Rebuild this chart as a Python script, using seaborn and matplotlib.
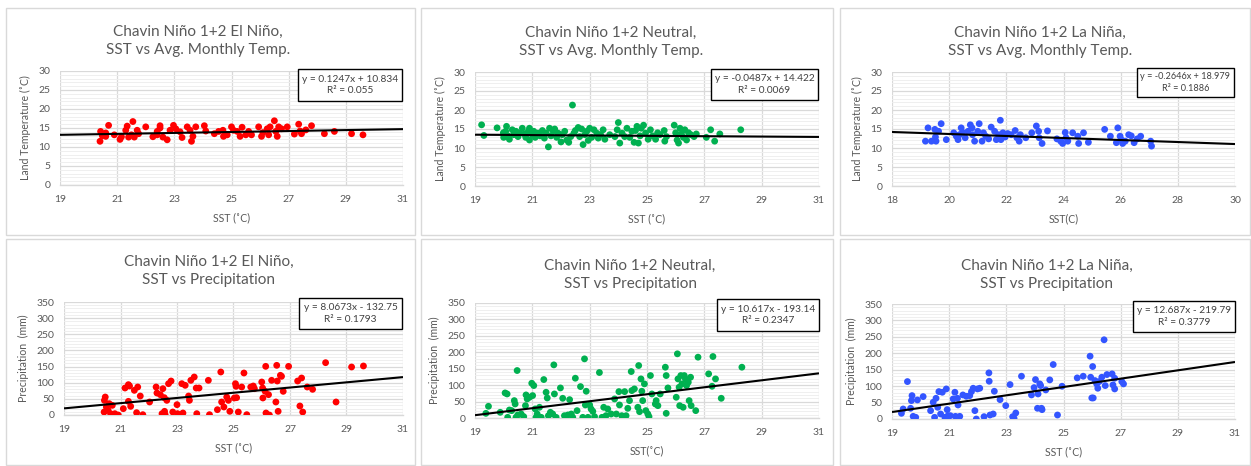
import numpy as np
import pandas as pd
import matplotlib
matplotlib.use("Agg")
import matplotlib.pyplot as plt
from matplotlib.patches import Rectangle
from matplotlib.ticker import MultipleLocator, NullLocator, FixedLocator
import seaborn as sns

# ---------------- DATA ----------------
# Panel 1: El Nino, SST vs Avg. Monthly Temp
en_temp_sst = [20.40, 20.42, 20.48, 20.6, 20.6, 20.7, 20.9, 21.1, 21.15, 21.3, 21.35, 21.4, 21.5, 21.55,
               21.6, 21.7, 21.75, 22.0, 22.25, 22.4, 22.5, 22.5, 22.4, 22.6, 22.75, 22.85, 22.97, 23.05,
               23.2, 23.27, 23.45, 23.55, 23.6, 23.65, 23.75, 24.05, 24.1, 24.4, 24.55, 24.7, 24.72, 24.85,
               25.0, 25.07, 25.2, 25.3, 25.37, 25.5, 25.6, 25.7, 25.95, 26.05, 26.1, 26.25, 26.3, 26.35,
               26.5, 26.55, 26.6, 26.65, 26.75, 26.95, 27.2, 27.35, 27.4, 27.45, 27.6, 27.8, 28.25, 28.6,
               29.2, 29.6]
en_temp_val = [11.5, 14.1, 13.0, 13.7, 12.8, 15.7, 13.2, 12.0, 12.7, 14.4, 15.5, 12.6, 13.2, 16.7,
               12.6, 14.4, 13.5, 15.3, 12.7, 14.1, 15.0, 15.6, 13.2, 12.6, 11.9, 14.4, 15.7, 14.8,
               14.0, 12.5, 15.3, 14.4, 11.5, 12.8, 15.3, 15.6, 14.2, 13.5, 14.1, 14.4, 12.8, 13.2,
               15.3, 14.4, 14.1, 12.8, 15.2, 13.2, 14.1, 13.2, 15.3, 12.8, 13.8, 14.8, 13.2, 15.3,
               16.9, 14.1, 12.8, 15.3, 14.8, 15.3, 13.4, 16.0, 14.2, 13.5, 14.5, 15.6, 13.5, 14.1,
               13.5, 13.2]

# Panel 2: Neutral, SST vs Avg. Monthly Temp
nu_temp_sst = [19.23, 19.31, 19.77, 19.99, 20.0, 20.07, 20.1, 20.15, 20.2, 20.3, 20.35, 20.43, 20.5, 20.55,
               20.65, 20.72, 20.77, 20.86, 20.9, 20.9, 21.0, 21.05, 21.1, 21.2, 21.27, 21.35, 21.42, 21.48,
               21.56, 21.6, 21.65, 21.73, 21.78, 21.85, 21.9, 22.0, 22.04, 22.13, 22.2, 22.27, 22.34, 22.4,
               22.45, 22.5, 22.6, 22.65, 22.72, 22.77, 22.83, 22.9, 22.95, 23.0, 23.07, 23.15, 23.25, 23.3,
               23.38, 23.47, 23.53, 23.7, 23.88, 23.96, 24.0, 24.05, 24.13, 24.22, 24.3, 24.4, 24.47, 24.55,
               24.6, 24.65, 24.7, 24.76, 24.8, 24.88, 24.95, 25.04, 25.12, 25.2, 25.3, 25.37, 25.45, 25.6,
               25.62, 25.68, 25.95, 26.0, 26.05, 26.1, 26.15, 26.2, 26.27, 26.32, 26.38, 26.45, 26.53, 26.64,
               26.72, 27.07, 27.22, 27.36, 27.54, 28.27]
nu_temp_val = [16.1, 13.3, 15.3, 14.0, 12.8, 14.4, 15.7, 13.2, 12.3, 14.8, 13.5, 14.4, 13.0, 13.9,
               15.2, 13.7, 12.8, 14.4, 15.2, 12.1, 13.5, 14.4, 12.8, 13.9, 13.2, 14.6, 12.6, 13.9,
               10.3, 15.2, 13.2, 14.4, 15.0, 12.8, 13.9, 11.6, 13.5, 14.4, 12.1, 11.5, 13.0, 21.3,
               13.9, 14.6, 15.4, 13.0, 15.0, 10.9, 13.5, 14.4, 12.0, 15.2, 12.8, 14.8, 13.9, 12.6,
               13.5, 14.8, 12.3, 13.5, 13.0, 14.8, 16.7, 11.3, 13.9, 13.0, 15.2, 12.8, 14.4, 11.5,
               14.6, 15.7, 11.3, 13.2, 15.2, 16.0, 13.9, 12.3, 14.8, 13.2, 12.3, 14.0, 13.5, 14.6,
               11.8, 13.0, 16.0, 14.0, 12.1, 11.3, 15.2, 13.7, 12.8, 14.8, 12.1, 14.0, 13.5, 13.0,
               13.7, 12.8, 14.8, 11.8, 13.7, 14.8]

# Panel 3: La Nina, SST vs Avg. Monthly Temp
ln_temp_sst = [19.17, 19.26, 19.38, 19.5, 19.52, 19.54, 19.63, 19.72, 19.9, 20.16, 20.25, 20.31, 20.36, 20.42,
               20.47, 20.56, 20.66, 20.74, 20.8, 20.82, 20.89, 21.0, 21.05, 21.15, 21.2, 21.28, 21.38, 21.47,
               21.59, 21.65, 21.73, 21.79, 21.81, 21.88, 21.96, 22.05, 22.17, 22.31, 22.37, 22.45, 22.49, 22.68,
               22.89, 23.05, 23.13, 23.15, 23.25, 23.44, 23.77, 23.9, 23.97, 24.06, 24.09, 24.15, 24.32, 24.5,
               24.53, 24.7, 24.87, 25.44, 25.64, 25.85, 25.9, 25.98, 26.02, 26.07, 26.16, 26.28, 26.37, 26.47,
               26.58, 26.7, 27.05, 27.08]
ln_temp_val = [11.8, 15.3, 11.8, 14.9, 12.9, 11.8, 14.4, 16.4, 12.2, 14.0, 13.1, 12.2, 13.5, 15.3,
               14.1, 12.7, 14.4, 16.1, 15.3, 13.5, 11.8, 14.4, 16.4, 11.8, 14.0, 13.1, 12.4, 15.5,
               14.4, 12.2, 13.5, 17.3, 12.2, 14.0, 12.9, 13.8, 13.5, 14.6, 12.7, 11.8, 13.5, 12.7,
               14.0, 15.8, 14.4, 12.7, 11.2, 14.5, 12.4, 11.8, 11.2, 14.1, 12.7, 11.8, 14.0, 13.1,
               11.2, 14.0, 11.5, 14.9, 13.1, 11.4, 15.3, 13.1, 12.2, 11.2, 11.8, 13.5, 13.2, 11.4,
               12.4, 13.1, 11.8, 10.5]

# Panel 4: El Nino, SST vs Precipitation
en_prec_sst = [20.42, 20.43, 20.46, 20.5, 20.56, 20.6, 20.65, 20.71, 20.8, 20.92, 21.1, 21.16, 21.28, 21.32,
               21.28, 21.36, 21.49, 21.57, 21.61, 21.7, 21.79, 22.03, 22.26, 22.29, 22.41, 22.47, 22.5, 22.55,
               22.56, 22.58, 22.64, 22.7, 22.79, 22.85, 23.0, 23.02, 23.17, 23.21, 23.29, 23.41, 23.44, 23.49,
               23.61, 23.68, 23.7, 23.78, 24.11, 24.15, 24.43, 24.55, 24.58, 24.66, 24.76, 24.82, 24.87, 25.03,
               25.07, 25.09, 25.11, 25.17, 25.29, 25.37, 25.47, 25.61, 25.7, 25.74, 26.0, 26.03, 26.04, 26.12,
               26.14, 26.15, 26.24, 26.27, 26.35, 26.5, 26.53, 26.55, 26.58, 26.66, 26.7, 26.76, 26.95, 27.27,
               27.35, 27.41, 27.45, 27.61, 27.8, 28.26, 28.63, 29.18, 29.6]
en_prec_val = [9.3, 45.4, 55.7, 24.8, 14.5, 35.1, 4.1, 29.9, 4.1, 0.0, 19.6, 83.6, 94.0, 89.8,
               42.3, 26.8, 76.4, 7.2, 86.7, 58.8, 1.0, 40.3, 86.7, 68.1, 63.0, 4.1, 81.6, 53.7,
               11.4, 1.0, 45.4, 97.0, 105.3, 9.3, 32.0, 4.1, 97.0, 6.2, 91.9, 58.8, 45.4, 107.4,
               117.7, 83.6, 4.1, 83.6, 107.4, 1.0, 16.5, 133.2, 40.3, 24.8, 55.7, 45.4, 11.4, 52.7,
               97.0, 88.8, 53.7, 9.3, 86.7, 130.1, 1.0, 86.7, 89.8, 81.6, 102.2, 83.6, 52.7, 73.3,
               150.7, 6.2, 63.0, 0.0, 107.4, 40.3, 153.8, 105.3, 11.4, 122.9, 119.8, 73.3, 150.7, 105.3,
               27.9, 114.6, 9.3, 86.7, 79.5, 162.1, 40.3, 148.7, 151.8]

# Panel 5: Neutral, SST vs Precipitation
nu_prec_sst = [19.38, 19.47, 19.88, 20.05, 20.12, 20.14, 20.2, 20.28, 20.37, 20.4, 20.43, 20.47, 20.49, 20.61,
               20.7, 20.76, 20.78, 20.82, 20.9, 20.98, 21.01, 21.05, 21.1, 21.13, 21.17, 21.25, 21.31, 21.4,
               21.48, 21.52, 21.56, 21.63, 21.71, 21.75, 21.77, 21.83, 21.98, 22.06, 22.12, 22.24, 22.3, 22.36,
               22.41, 22.5, 22.56, 22.68, 22.76, 22.82, 22.85, 22.88, 22.94, 23.0, 23.05, 23.11, 23.17, 23.34,
               23.43, 23.49, 23.57, 23.63, 23.75, 23.87, 23.93, 24.02, 24.04, 24.12, 24.22, 24.27, 24.33, 24.39,
               24.45, 24.47, 24.56, 24.68, 24.71, 24.74, 24.79, 24.82, 24.85, 24.91, 24.96, 25.03, 25.07, 25.12,
               25.17, 25.29, 25.32, 25.38, 25.46, 25.64, 25.67, 25.67, 25.73, 26.02, 26.06, 26.08, 26.12, 26.14,
               26.18, 26.22, 26.26, 26.3, 26.34, 26.38, 26.44, 26.47, 26.52, 26.54, 26.7, 26.78, 27.15, 27.27,
               27.3, 27.39, 27.59, 28.31]
nu_prec_val = [14.2, 35.6, 17.3, 76.3, 73.2, 2.0, 24.4, 22.4, 52.9, 42.7, 2.0, 144.5, 9.2, 12.2,
               4.1, 37.6, 70.2, 58.0, 63.1, 105.8, 68.2, 98.7, 27.5, 2.0, 12.2, 32.6, 2.0, 117.0,
               78.3, 61.0, 7.1, 17.3, 12.2, 161.7, 73.2, 2.0, 91.5, 60.0, 7.1, 9.2, 55.9, 12.2,
               2.0, 121.1, 22.4, 95.6, 2.0, 180.0, 39.7, 81.4, 2.0, 39.7, 27.5, 20.3, 4.1, 138.4,
               2.0, 32.6, 7.1, 27.5, 12.2, 58.0, 12.2, 80.3, 39.7, 7.1, 80.3, 7.1, 29.5, 52.9,
               141.4, 83.4, 88.5, 32.6, 159.7, 19.3, 119.0, 81.4, 52.9, 103.8, 22.4, 12.2, 4.1, 129.2,
               73.2, 42.7, 52.9, 37.6, 73.2, 154.6, 129.2, 14.2, 91.5, 63.1, 195.3, 119.0, 93.6, 37.6,
               129.2, 103.8, 32.6, 129.2, 119.0, 98.7, 108.8, 52.9, 124.1, 37.6, 22.4, 185.1, 134.3, 96.6,
               187.1, 119.0, 60.0, 154.6]

# Panel 6: La Nina, SST vs Precipitation
ln_prec_sst = [19.33, 19.39, 19.54, 19.65, 19.68, 19.7, 19.74, 19.83, 19.89, 20.09, 20.35, 20.44, 20.49, 20.54,
               20.6, 20.64, 20.7, 20.76, 20.85, 20.9, 20.93, 20.96, 21.04, 21.14, 21.2, 21.22, 21.29, 21.31,
               21.37, 21.48, 21.6, 21.72, 21.78, 21.84, 21.9, 21.95, 21.99, 22.07, 22.22, 22.39, 22.4, 22.43,
               22.54, 22.58, 22.78, 22.98, 23.13, 23.22, 23.27, 23.33, 23.53, 23.88, 23.97, 24.02, 24.09, 24.11,
               24.17, 24.2, 24.23, 24.25, 24.38, 24.52, 24.64, 24.79, 24.95, 25.48, 25.69, 25.93, 25.95, 25.99,
               26.02, 26.04, 26.1, 26.16, 26.2, 26.25, 26.34, 26.42, 26.46, 26.52, 26.7, 26.73, 26.79, 26.79,
               27.04, 27.1]
ln_prec_val = [17.3, 30.5, 113.9, 32.6, 56.0, 71.2, 8.1, 5.1, 58.0, 68.2, 25.4, 50.9, 5.1, 63.1,
               35.6, 83.4, 15.3, 81.4, 5.1, 91.5, 28.5, 10.2, 10.2, 61.0, 81.4, 8.1, 63.1, 42.7,
               8.1, 73.2, 69.2, 71.2, 83.4, 93.6, 25.4, 0.0, 91.5, 93.6, 7.1, 140.4, 114.9, 12.2,
               15.3, 84.4, 59.0, 40.7, 104.8, 7.1, 2.0, 18.3, 130.2, 73.2, 95.6, 120.0, 32.6, 76.3,
               106.8, 101.7, 32.6, 28.5, 88.5, 119.0, 165.8, 12.2, 99.7, 125.1, 130.2, 191.2, 127.1, 64.1,
               159.7, 64.1, 117.0, 106.8, 93.6, 114.0, 127.1, 241.1, 101.7, 135.3, 137.3, 103.8, 91.5, 124.1,
               114.0, 106.8]

titles = ["Chavin Niño 1+2 El Niño,\nSST vs Avg. Monthly Temp.",
          "Chavin Niño 1+2 Neutral,\nSST vs Avg. Monthly Temp.",
          "Chavin Niño 1+2 La Niña,\nSST vs Avg. Monthly Temp.",
          "Chavin Niño 1+2 El Niño,\nSST vs Precipitation",
          "Chavin Niño 1+2 Neutral,\nSST vs Precipitation",
          "Chavin Niño 1+2 La Niña,\nSST vs Precipitation"]
xlabels = ["SST (˚C)", "SST (˚C)", "SST(C)", "SST (˚C)", "SST(˚C)", "SST (˚C)"]
ylabels = ["Land Temperature (˚C)"] * 3 + ["Precipitation  (mm)"] * 3
slopes = [0.1247, -0.0487, -0.2646, 8.0673, 10.617, 12.687]
intercepts = [10.834, 14.422, 18.979, -132.75, -193.14, -219.79]
eq_texts = ["y = 0.1247x + 10.834\nR² = 0.055",
            "y = -0.0487x + 14.422\nR² = 0.0069",
            "y = -0.2646x + 18.979\nR² = 0.1886",
            "y = 8.0673x - 132.75\nR² = 0.1793",
            "y = 10.617x - 193.14\nR² = 0.2347",
            "y = 12.687x - 219.79\nR² = 0.3779"]
xlims = [(19, 31), (19, 31), (18, 30), (19, 31), (19, 31), (19, 31)]
ylims = [(0, 30)] * 3 + [(0, 350)] * 3

series = [(en_temp_sst, en_temp_val), (nu_temp_sst, nu_temp_val), (ln_temp_sst, ln_temp_val),
          (en_prec_sst, en_prec_val), (nu_prec_sst, nu_prec_val), (ln_prec_sst, ln_prec_val)]
colors = ["#FF0000", "#00B050", "#3355FF"] * 2

# ---------------- LAYOUT ----------------
W, H = 1251, 466
sns.set_style("white")
plt.rcParams['font.family'] = ['Lato', 'DejaVu Sans']
fig = plt.figure(figsize=(W / 100, H / 100), dpi=100)
fig.patch.set_facecolor("white")

def fbox(x0, y0, x1, y1):
    return [x0 / W, 1 - y1 / H, (x1 - x0) / W, (y1 - y0) / H]

panel_boxes = [(6, 8, 415, 235), (421, 8, 833, 235), (840, 8, 1250, 235),
               (6, 239, 415, 465), (421, 239, 833, 465), (840, 239, 1250, 465)]
axes_boxes = [(60, 71, 403, 185), (475, 72, 819, 186), (892, 72, 1235, 186),
              (64, 302, 403, 415), (475, 303, 819, 418), (892, 304, 1235, 419)]
title_pos = [(198, 41), (611, 42), (1040, 42), (209, 271), (630, 275), (1047, 275)]
eq_boxes = [(298, 69, 402, 101), (711, 69, 818, 100), (1137, 68, 1234, 97),
            (299, 298, 402, 329), (717, 299, 819, 331), (1133, 301, 1235, 332)]
eq_sizes = [7.3, 7.3, 6.6, 7.3, 7.3, 7.3]

grey = "#595959"

for i in range(6):
    px0, py0, px1, py1 = panel_boxes[i]
    fig.add_artist(Rectangle((px0 / W, 1 - py1 / H), (px1 - px0) / W, (py1 - py0) / H,
                             transform=fig.transFigure, facecolor="white",
                             edgecolor="#d9d9d9", lw=1.0, zorder=0))
for i in range(6):
    ax = fig.add_axes(fbox(*axes_boxes[i]))
    ax.set_facecolor("none")
    xs, ys = series[i]
    df = pd.DataFrame({"sst": xs, "val": ys})
    sns.scatterplot(data=df, x="sst", y="val", ax=ax, color=colors[i], s=24,
                    edgecolor="none", linewidth=0, zorder=3, legend=False)
    ax.set_xlim(*xlims[i])
    ax.set_ylim(*ylims[i])
    xl = np.array(xlims[i], dtype=float)
    ax.plot(xl, slopes[i] * xl + intercepts[i], color="black", lw=1.5, zorder=4,
            solid_capstyle="butt")
    ax.xaxis.set_major_locator(FixedLocator(np.arange(xlims[i][0], xlims[i][1] + 1, 2)))
    ax.xaxis.set_minor_locator(NullLocator())
    if i < 3:
        ax.yaxis.set_major_locator(MultipleLocator(5))
        ax.yaxis.set_minor_locator(MultipleLocator(1))
    else:
        ax.yaxis.set_major_locator(MultipleLocator(50))
        ax.yaxis.set_minor_locator(MultipleLocator(10))
    ax.grid(which="major", color="#d9d9d9", lw=0.9, zorder=0)
    ax.grid(which="minor", axis="y", color="#efefef", lw=0.7, zorder=0)
    ax.set_axisbelow(True)
    for s in ["top", "right", "left"]:
        ax.spines[s].set_visible(False)
    ax.spines["bottom"].set_color("#d9d9d9")
    ax.spines["bottom"].set_linewidth(1.0)
    ax.tick_params(which="both", length=0, labelsize=7.5, labelcolor=grey, pad=7)
    ax.set_xlabel(xlabels[i], fontsize=7.6, color=grey, labelpad=6)
    ax.set_ylabel(ylabels[i], fontsize=7.6, color=grey, labelpad=5)
    tx, ty = title_pos[i]
    fig.text(tx / W, 1 - ty / H, titles[i], ha="center", va="center", fontsize=11,
             color=grey, linespacing=1.45)
    ex0, ey0, ex1, ey1 = eq_boxes[i]
    fig.add_artist(Rectangle((ex0 / W, 1 - ey1 / H), (ex1 - ex0) / W, (ey1 - ey0) / H,
                             transform=fig.transFigure, facecolor="white",
                             edgecolor="black", lw=1.0, zorder=10))
    fig.text((ex0 + ex1) / 2 / W, 1 - (ey0 + ey1) / 2 / H, eq_texts[i], ha="center",
             va="center", fontsize=eq_sizes[i], color="#404040", linespacing=1.35,
             zorder=11)

fig.savefig("out.png", dpi=100, facecolor="white")
